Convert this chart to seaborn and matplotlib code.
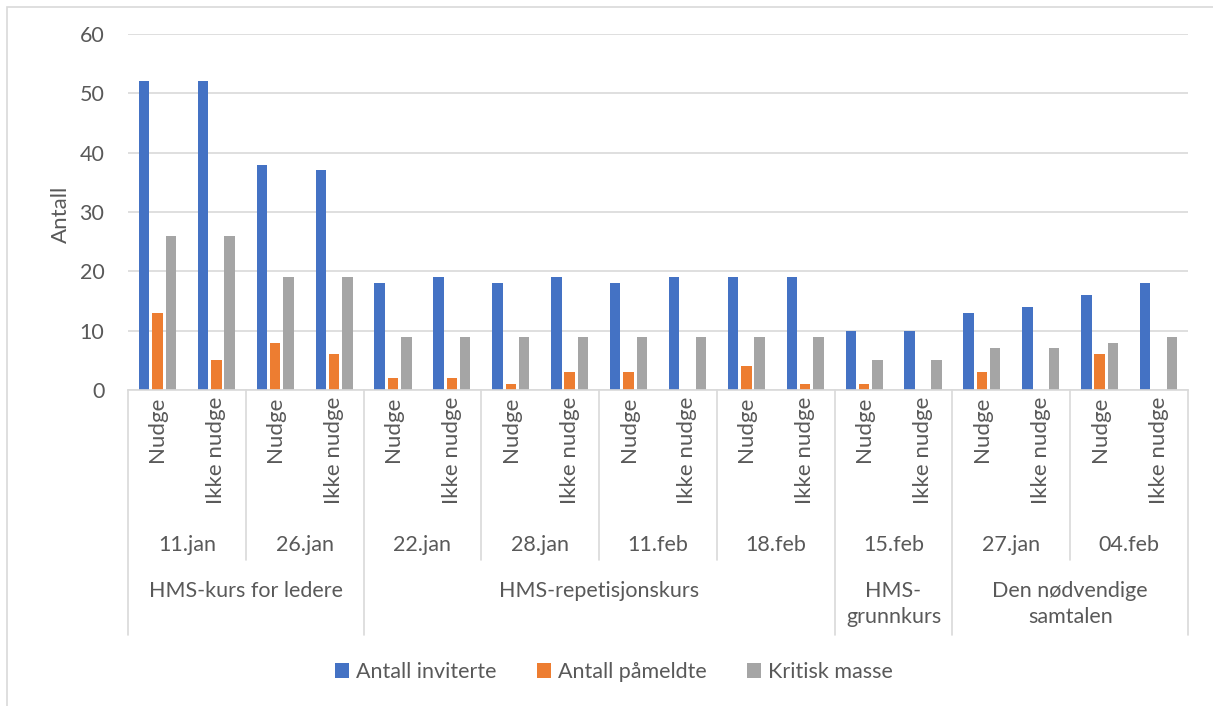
import numpy as np
import pandas as pd
import matplotlib.pyplot as plt
import seaborn as sns
from matplotlib.transforms import blended_transform_factory

# data
courses = ['HMS-kurs for ledere', 'HMS-repetisjonskurs', 'HMS-\ngrunnkurs', 'Den nødvendige\nsamtalen']
course_dates = [['11.jan', '26.jan'], ['22.jan', '28.jan', '11.feb', '18.feb'], ['15.feb'], ['27.jan', '04.feb']]
nudge_types = ['Nudge', 'Ikke nudge']
inviterte = [52, 52, 38, 37, 18, 19, 18, 19, 18, 19, 19, 19, 10, 10, 13, 14, 16, 18]
pameldte = [13, 5, 8, 6, 2, 2, 1, 3, 3, 0, 4, 1, 1, 0, 3, 0, 6, 0]
kritisk = [26, 26, 19, 19, 9, 9, 9, 9, 9, 9, 9, 9, 5, 5, 7, 7, 8, 9]
series = ['Antall inviterte', 'Antall påmeldte', 'Kritisk masse']
colors = ['#4472C4', '#ED7D31', '#A5A5A5']

n = len(inviterte)
slots = [str(i) for i in range(n)]
df = pd.DataFrame({
    'slot': slots * 3,
    'serie': np.repeat(series, n),
    'verdi': inviterte + pameldte + kritisk,
})

sns.set_style('white')
plt.rcParams['font.family'] = ['Lato', 'DejaVu Sans']
txt = '#595959'
grid = '#D9D9D9'
fs = 15.5

fig = plt.figure(figsize=(12.13, 7.06), dpi=100)
ax = fig.add_axes([128 / 1213, 1 - 390 / 706, 1060 / 1213, 356 / 706])

sns.barplot(data=df, x='slot', y='verdi', hue='serie', palette=colors,
            width=0.68, gap=0.22, ax=ax, order=slots, hue_order=series,
            saturation=1, edgecolor='none')

ax.set_xlim(-0.5, n - 0.5)
ax.set_ylim(0, 60)
ax.set_yticks(range(0, 61, 10))
ax.yaxis.grid(True, color=grid, linewidth=1.2)
ax.set_axisbelow(True)
for s in ['top', 'right', 'left']:
    ax.spines[s].set_visible(False)
ax.spines['bottom'].set_color(grid)
ax.spines['bottom'].set_linewidth(1.2)
ax.tick_params(axis='y', length=0, labelsize=fs, labelcolor=txt, pad=17)
ax.set_xticks([])
ax.set_xlabel('')
ax.set_ylabel('Antall', fontsize=16, color=txt)
ax.yaxis.set_label_coords(-0.054, 0.494)

# multi-level category axis
tr = blended_transform_factory(ax.transData, ax.transAxes)
y_date_end = -(560 - 390) / 356
y_course_end = -(635 - 390) / 356
y_nudge = -(397 - 390) / 356
y_date = -(545 - 390) / 356
y_course = -(581 - 390) / 356

for i in range(n):
    ax.text(i, y_nudge, nudge_types[i % 2], transform=tr, rotation=90,
            ha='center', va='top', fontsize=16, color=txt)

pos = 0
for ci, dates in enumerate(course_dates):
    start = pos
    for d in dates:
        ax.text(pos + 0.5, y_date, d, transform=tr, ha='center', va='center',
                fontsize=fs, color=txt)
        pos += 2
        if d != dates[-1]:
            ax.plot([pos - 0.5, pos - 0.5], [0, y_date_end], transform=tr,
                    color=grid, lw=1.2, clip_on=False)
    ax.text((start + pos - 1) / 2, y_course, courses[ci], transform=tr,
            ha='center', va='top', fontsize=fs, color=txt, linespacing=1.4,
            multialignment='center')
    ax.plot([start - 0.5, start - 0.5], [0, y_course_end], transform=tr,
            color=grid, lw=1.2, clip_on=False)
ax.plot([n - 0.5, n - 0.5], [0, y_course_end], transform=tr,
        color=grid, lw=1.2, clip_on=False)

# legend
handles, labels = ax.get_legend_handles_labels()
ax.legend(handles, labels, loc='center', bbox_to_anchor=(614 / 1213, 1 - 672 / 706),
          bbox_transform=fig.transFigure, ncol=3, frameon=False, fontsize=fs,
          handlelength=0.65, handleheight=0.65, handletextpad=0.3, columnspacing=1.9,
          labelcolor=txt)

# outer frame
fig.patches.append(plt.Rectangle((7 / 1213, -0.01), 1.02, 1 - 7 / 706 + 0.01,
                                 transform=fig.transFigure, fill=False,
                                 edgecolor=grid, lw=1.2))

fig.savefig('out.png', dpi=100)
